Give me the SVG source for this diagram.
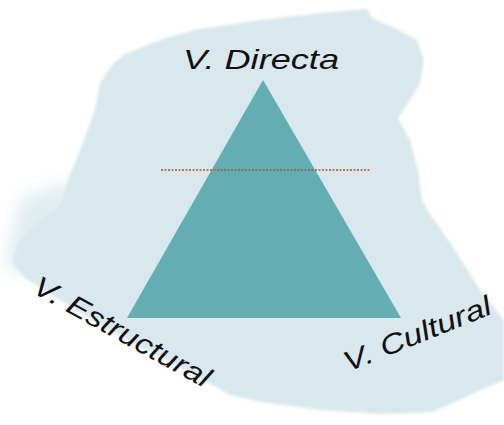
<svg xmlns="http://www.w3.org/2000/svg" width="504" height="425" viewBox="0 0 504 425">
<defs>
<filter id="soft" x="-10%" y="-10%" width="120%" height="120%"><feGaussianBlur stdDeviation="1.5"/></filter>
<filter id="fade" x="-20%" y="-20%" width="140%" height="140%"><feGaussianBlur stdDeviation="8"/></filter>
</defs>
<style>
.lbl{font-family:"Liberation Sans",Arial,sans-serif;font-style:italic;font-size:28px;fill:#111}
.brush{fill:#d8e8ed}
</style>
<rect width="504" height="425" fill="#ffffff"/>
<g id="background">
<path class="brush" filter="url(#fade)" opacity="0.8" d="M20,200 L70,180 L60,250 L30,275 L5,265 Z"/>
<path class="brush" filter="url(#soft)" d="M123,55 L160,40 L193,30 L260,20 L330,12 L367,9 L372,18 L395,28 L417,40 L424,60 L420,83 L410,100 L398,118 L410,140 L418,170 L422,200 L430,214 L455,250 L480,290 L504,320 L504,380 L470,395 L433,412 L380,414 L320,410 L260,402 L230,395 L200,378 L150,352 L100,325 L60,300 L25,278 L12,262 L20,240 L35,225 L60,205 L66,185 L80,150 L95,110 L100,83 L112,65 Z"/>
</g>
<g id="triangle">
<polygon points="263,80 127,318 401,318" fill="#62aeb3"/>
</g>
<g id="connectors">
<line x1="161" y1="170" x2="371" y2="170" stroke="#b5522e" stroke-width="1.6" stroke-dasharray="2,1.5"/>
</g>
<g id="label-directa">
<text class="lbl" x="183" y="69" textLength="156" lengthAdjust="spacingAndGlyphs">V. Directa</text>
</g>
<g id="label-estructural">
<text class="lbl" transform="translate(31,292) rotate(29)" x="0" y="0" textLength="198" lengthAdjust="spacingAndGlyphs">V. Estructural</text>
</g>
<g id="label-cultural">
<text class="lbl" transform="translate(348,372) rotate(-22)" x="0" y="0" textLength="157" lengthAdjust="spacingAndGlyphs">V. Cultural</text>
</g>
</svg>
